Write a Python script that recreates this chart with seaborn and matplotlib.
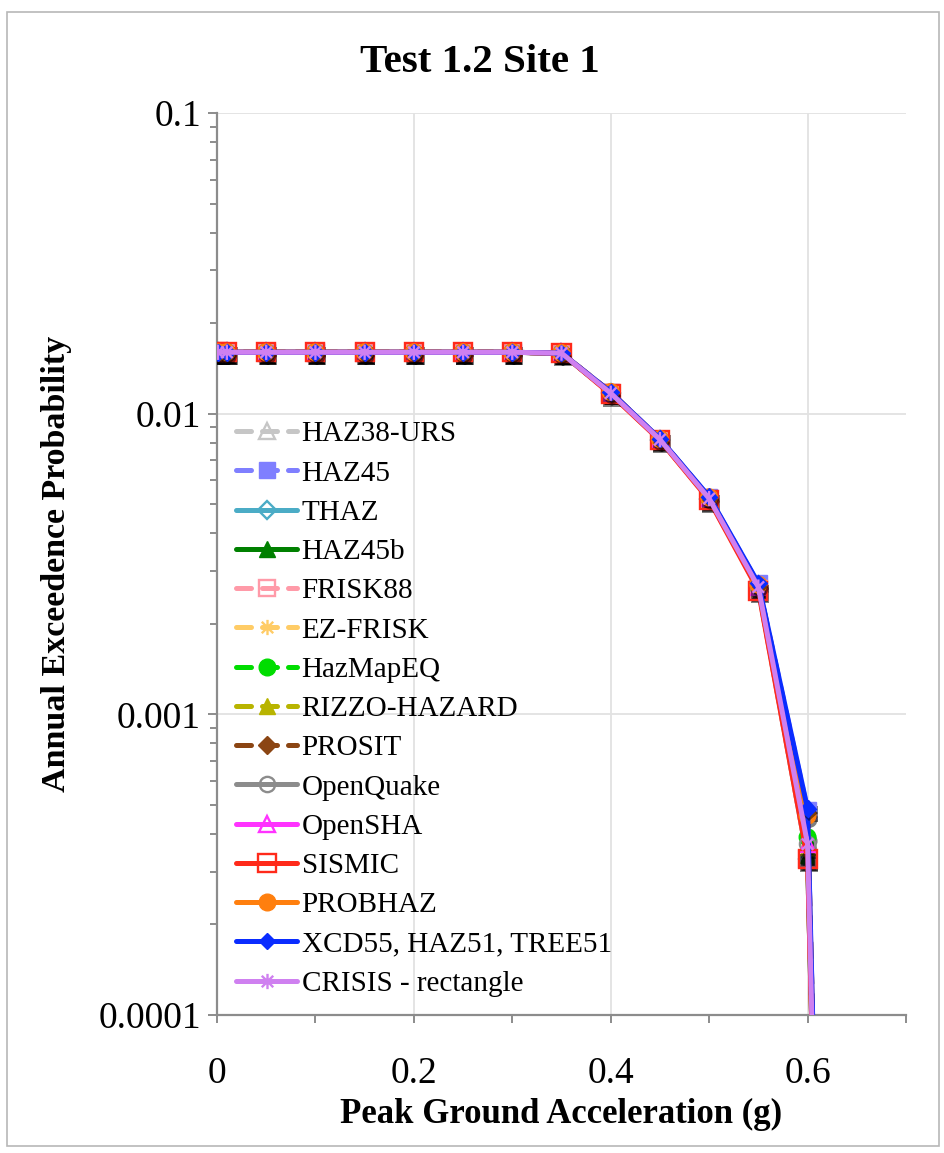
import matplotlib
matplotlib.use("Agg")
import matplotlib.pyplot as plt
import matplotlib.patheffects as pe
from matplotlib.lines import Line2D
from matplotlib.patches import Rectangle
from matplotlib.path import Path
from matplotlib.ticker import FixedLocator, FixedFormatter, MultipleLocator, LogLocator, NullFormatter
import seaborn as sns

# Peak ground acceleration (g)
pga = [0.001, 0.01, 0.05, 0.10, 0.15, 0.20, 0.25, 0.30, 0.35, 0.40, 0.45, 0.50, 0.55, 0.60, 0.65]

# Annual exceedence probability per code
haz38_urs = [0.0160, 0.0160, 0.0160, 0.0160, 0.0160, 0.0160, 0.0160, 0.0160, 0.0159, 0.0117, 0.00818, 0.00520, 0.00262, 0.00033, 1e-10]
haz45     = [0.0160, 0.0160, 0.0160, 0.0160, 0.0160, 0.0160, 0.0160, 0.0160, 0.0159, 0.0118, 0.00824, 0.00528, 0.00272, 0.00048, 1e-10]
thaz      = [0.0160, 0.0160, 0.0160, 0.0160, 0.0160, 0.0160, 0.0160, 0.0160, 0.0159, 0.0117, 0.00820, 0.00522, 0.00263, 0.00033, 1e-10]
haz45b    = [0.0160, 0.0160, 0.0160, 0.0160, 0.0160, 0.0160, 0.0160, 0.0160, 0.0159, 0.0117, 0.00820, 0.00523, 0.00264, 0.00034, 1e-10]
frisk88   = [0.0160, 0.0160, 0.0160, 0.0160, 0.0160, 0.0160, 0.0160, 0.0160, 0.0159, 0.0117, 0.00816, 0.00518, 0.00260, 0.00033, 1e-10]
ez_frisk  = [0.0160, 0.0160, 0.0160, 0.0160, 0.0160, 0.0160, 0.0160, 0.0160, 0.0159, 0.0117, 0.00820, 0.00522, 0.00264, 0.00038, 1e-10]
hazmapeq  = [0.0160, 0.0160, 0.0160, 0.0160, 0.0160, 0.0160, 0.0160, 0.0160, 0.0159, 0.0117, 0.00821, 0.00524, 0.00266, 0.00039, 1e-10]
rizzo     = [0.0160, 0.0160, 0.0160, 0.0160, 0.0160, 0.0160, 0.0160, 0.0160, 0.0159, 0.0117, 0.00820, 0.00522, 0.00264, 0.00036, 1e-10]
prosit    = [0.0160, 0.0160, 0.0160, 0.0160, 0.0160, 0.0160, 0.0160, 0.0160, 0.0159, 0.0118, 0.00822, 0.00526, 0.00270, 0.00047, 1e-10]
openquake = [0.0160, 0.0160, 0.0160, 0.0160, 0.0160, 0.0160, 0.0160, 0.0160, 0.0159, 0.0117, 0.00820, 0.00522, 0.00265, 0.00037, 1e-10]
opensha   = [0.0160, 0.0160, 0.0160, 0.0160, 0.0160, 0.0160, 0.0160, 0.0160, 0.0159, 0.0117, 0.00820, 0.00522, 0.00265, 0.00037, 1e-10]
sismic    = [0.0160, 0.0160, 0.0160, 0.0160, 0.0160, 0.0160, 0.0160, 0.0160, 0.0159, 0.0116, 0.00815, 0.00516, 0.00258, 0.00033, 1e-10]
probhaz   = [0.0160, 0.0160, 0.0160, 0.0160, 0.0160, 0.0160, 0.0160, 0.0160, 0.0159, 0.0118, 0.00823, 0.00527, 0.00270, 0.00046, 1e-10]
xcd55     = [0.0160, 0.0160, 0.0160, 0.0160, 0.0160, 0.0160, 0.0160, 0.0160, 0.0159, 0.0118, 0.00825, 0.00530, 0.00273, 0.000485, 1e-10]
crisis    = [0.0160, 0.0160, 0.0160, 0.0160, 0.0160, 0.0160, 0.0160, 0.0160, 0.0159, 0.0117, 0.00820, 0.00522, 0.00265, 0.00037, 1e-10]

labels = ["HAZ38-URS", "HAZ45", "THAZ", "HAZ45b", "FRISK88", "EZ-FRISK", "HazMapEQ",
          "RIZZO-HAZARD", "PROSIT", "OpenQuake", "OpenSHA", "SISMIC", "PROBHAZ",
          "XCD55, HAZ51, TREE51", "CRISIS - rectangle"]
values = [haz38_urs, haz45, thaz, haz45b, frisk88, ez_frisk, hazmapeq, rizzo, prosit,
          openquake, opensha, sismic, probhaz, xcd55, crisis]

ytick_vals = [1e-4, 1e-3, 1e-2, 1e-1]
ytick_labels = ["0.0001", "0.001", "0.01", "0.1"]
xtick_vals = [0.0, 0.2, 0.4, 0.6]
xtick_labels = ["0", "0.2", "0.4", "0.6"]

# Star marker: an X crossed by a vertical stroke
star = Path([(0, -1), (0, 1), (-0.75, -0.75), (0.75, 0.75), (-0.75, 0.75), (0.75, -0.75)],
            [Path.MOVETO, Path.LINETO, Path.MOVETO, Path.LINETO, Path.MOVETO, Path.LINETO])

# colour, dashed?, marker, filled marker?, marker size (pt)
styles = [
    ("#c6c6c6", True,  "^",  False, 11),
    ("#7f7fff", True,  "s",  True,  12),
    ("#4bacc6", False, "D",  False, 9),
    ("#008000", False, "^",  True,  11),
    ("#ff9aa8", True,  "s",  False, 12),
    ("#ffcc66", True,  star, False, 11),
    ("#00dd00", True,  "o",  True,  12),
    ("#b8b400", True,  "^",  True,  11),
    ("#8b4513", True,  "D",  True,  9),
    ("#8c8c8c", False, "o",  False, 11),
    ("#ff33ff", False, "^",  False, 11),
    ("#ff2a1a", False, "s",  False, 13),
    ("#ff7f0e", False, "o",  True,  12),
    ("#0a2cff", False, "D",  True,  8.5),
    ("#cf80f0", False, star, False, 11),
]

sns.set_theme(style="white")
plt.rcParams["font.family"] = ["Liberation Serif", "DejaVu Serif"]
plt.rcParams["text.color"] = "black"
plt.rcParams["axes.labelcolor"] = "black"
plt.rcParams["xtick.color"] = "black"
plt.rcParams["ytick.color"] = "black"

fig = plt.figure(figsize=(9.45, 11.53), dpi=100)
W, H = 945, 1153
L, R, T, B = 217, 906, 113, 1015
ax = fig.add_axes([L / W, 1 - B / H, (R - L) / W, (B - T) / H])
ax.set_yscale("log")

LW = 3.6
DASH = (3.0, 2.2)
shadow = [pe.SimplePatchShadow(offset=(1.2, -2.8), shadow_rgbFace="black", alpha=0.5), pe.Normal()]

handles = []
for i, (name, yv, (col, dashed, mk, filled, ms)) in enumerate(zip(labels, values, styles)):
    ls_kw = dict(dashes=DASH) if dashed else dict(linestyle="-")
    sns.lineplot(x=pga, y=yv, ax=ax, color=col, linewidth=LW, sort=False,
                 dash_capstyle="round", solid_capstyle="round",
                 zorder=3 + 2 * i, legend=False, **ls_kw)
    mfc = col if filled else "none"
    mew = 1.0 if filled else 1.7
    ax.plot(pga[:-1], yv[:-1], linestyle="none", marker=mk, markersize=ms,
            markerfacecolor=mfc, markeredgecolor=col, markeredgewidth=mew,
            path_effects=shadow, zorder=4 + 2 * i)
    handles.append(Line2D([], [], color=col, linewidth=LW,
                          linestyle="--" if dashed else "-",
                          dashes=DASH if dashed else (None, None),
                          dash_capstyle="round", solid_capstyle="round",
                          marker=mk, markersize=ms, markerfacecolor=mfc,
                          markeredgecolor=col, markeredgewidth=mew, label=name))

ax.set_xlim(0, 0.7)
ax.set_ylim(1e-4, 1e-1)

ax.xaxis.set_major_locator(FixedLocator(xtick_vals))
ax.xaxis.set_major_formatter(FixedFormatter(xtick_labels))
ax.xaxis.set_minor_locator(MultipleLocator(0.1))
ax.yaxis.set_major_locator(FixedLocator(ytick_vals))
ax.yaxis.set_major_formatter(FixedFormatter(ytick_labels))
ax.yaxis.set_minor_locator(LogLocator(base=10, subs=[2, 3, 4, 5, 6, 7, 8, 9]))
ax.yaxis.set_minor_formatter(NullFormatter())

spine_col = "#8c8c8c"
for s in ["top", "right"]:
    ax.spines[s].set_visible(False)
for s in ["left", "bottom"]:
    ax.spines[s].set_color(spine_col)
    ax.spines[s].set_linewidth(1.6)
    ax.spines[s].set_zorder(2)

ax.grid(True, which="major", color="#e2e2e2", linewidth=1.3)
ax.grid(False, which="minor")
ax.set_axisbelow(True)

ax.tick_params(axis="both", which="both", direction="out", color=spine_col, width=1.4,
               left=True, bottom=True)
ax.tick_params(axis="y", which="major", length=6.5, pad=5, labelsize=27, labelcolor="black")
ax.tick_params(axis="y", which="minor", length=5)
ax.tick_params(axis="x", which="both", length=6)
ax.tick_params(axis="x", which="major", pad=24, labelsize=27, labelcolor="black")

ax.set_xlabel("Peak Ground Acceleration (g)", fontsize=25, fontweight="bold", color="black")
ax.xaxis.set_label_coords(0.5, (B - 1114) / (B - T))
ax.xaxis.label.set_va("center")
ax.set_ylabel("Annual Exceedence Probability", fontsize=24.5, fontweight="bold", color="black")
ax.yaxis.set_label_coords((57 - L) / (R - L), 0.5)
ax.yaxis.label.set_va("center")

fig.text(480 / W, 1 - 62 / H, "Test 1.2 Site 1", ha="center", va="center",
         fontsize=29.5, fontweight="bold", color="black")

leg = ax.legend(handles=handles, loc="upper left",
                bbox_to_anchor=((236 - L) / (R - L), (B - 421) / (B - T)),
                frameon=False, fontsize=21, handlelength=2.1, handletextpad=0.15,
                labelspacing=0.44, borderpad=0, borderaxespad=0, labelcolor="black")
leg.set_zorder(50)

fig.add_artist(Rectangle((7 / W, 1 - 1146 / H), (939 - 7) / W, (1146 - 12) / H,
                         transform=fig.transFigure, fill=False,
                         edgecolor="#b8b8b8", linewidth=1.2))

fig.savefig("out.png", dpi=100, facecolor="white")
